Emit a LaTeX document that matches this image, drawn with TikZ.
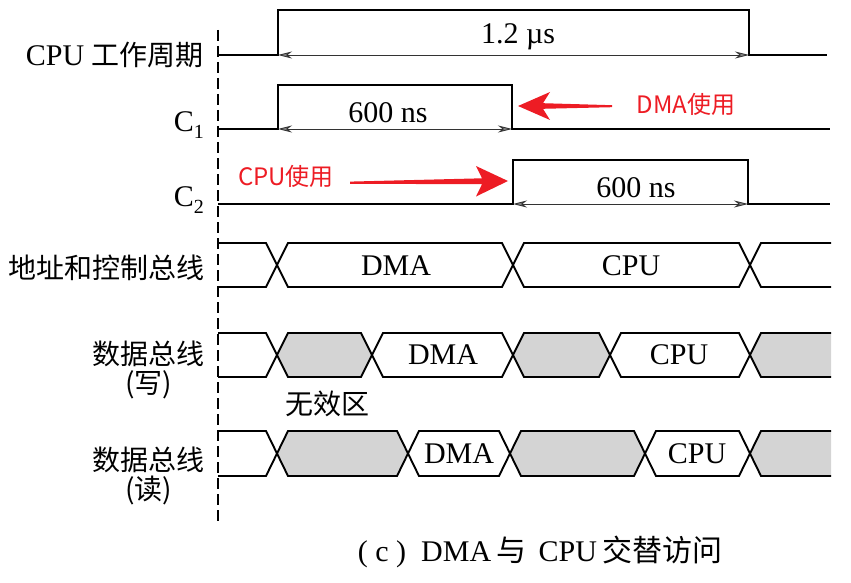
\documentclass[tikz,border=0pt]{standalone}
\usepackage{fontspec}
\setmainfont{Liberation Serif}
\newfontfamily\cjk{Noto Sans CJK SC}
\newfontfamily\redsans{Noto Sans CJK SC}
\usetikzlibrary{arrows.meta}
\definecolor{redarrow}{RGB}{237,28,36}
\definecolor{stip}{RGB}{212,212,212}
\newcommand\hexseg[5]{%
  \draw[bus,#5] (#1,{(#3+#4)/2}) -- ({#1+11},#3) -- ({#2-11},#3) -- (#2,{(#3+#4)/2}) -- ({#2-11},#4) -- ({#1+11},#4) -- cycle;}
\newcommand\leftseg[3]{%
  \draw[bus] (218,#2) -- ({#1-11},#2) -- (#1,{(#2+#3)/2}) -- ({#1-11},#3) -- (218,#3);}
\newcommand\rightseg[4]{%
  \fill[#4] (831,#2) -- ({#1+11},#2) -- (#1,{(#2+#3)/2}) -- ({#1+11},#3) -- (831,#3) -- cycle;
  \draw[bus] (831,#2) -- ({#1+11},#2) -- (#1,{(#2+#3)/2}) -- ({#1+11},#3) -- (831,#3);}
\begin{document}
\begin{tikzpicture}[x=1pt,y=-1pt,
  wave/.style={line width=1.9pt,line join=miter},
  bus/.style={line width=1.9pt,line join=miter},
  dim/.style={line width=0.9pt,black!80,{Stealth[length=14pt,width=7pt,fill=black!45]}-{Stealth[length=14pt,width=7pt,fill=black!45]}},
  lab/.style={font=\fontsize{30}{33}\selectfont,inner sep=0pt},
  cj/.style={font=\fontsize{28}{32}\selectfont\cjk,inner sep=0pt},
  redlab/.style={font=\fontsize{24}{26}\selectfont\redsans,text=redarrow,inner sep=0pt},
  gray/.style={fill=stip}]
\useasboundingbox (0,0) rectangle (851,583);

% dashed reference line
\draw[line width=1.4pt,dash pattern=on 11pt off 5pt] (218,30) -- (218,524);

% row labels
\node[lab,anchor=east] (lcpu) at (204,55) {CPU {\cjk\fontsize{28}{30}\selectfont 工作周期}};
\node[lab,anchor=east] (lc1) at (204,125) {C\raisebox{-0.45ex}{\fontsize{20}{20}\selectfont 1}};
\node[lab,anchor=east] (lc2) at (204,200) {C\raisebox{-0.45ex}{\fontsize{20}{20}\selectfont 2}};
\node[cj,anchor=east] (laddr) at (205,268) {地址和控制总线};
\node[cj,anchor=east,align=center] (lwr) at (205,370) {数据总线\\[-3pt](写)};
\node[cj,anchor=east,align=center] (lrd) at (205,476) {数据总线\\[-3pt](读)};

% CPU cycle
\draw[wave] (218,55) -- (278,55) -- (278,10) -- (749,10) -- (749,55) -- (827,55);
\coordinate (cA) at (278,55); \coordinate (cB) at (749,55);
\draw[dim] (cA) -- (cB);
\node[lab] (t12) at (518,37) {1.2 µs};

% C1
\draw[wave] (218,129) -- (278,129) -- (278,85) -- (512,85) -- (512,129) -- (830,129);
\coordinate (c1A) at (278,129); \coordinate (c1B) at (512,129);
\draw[dim] (c1A) -- (c1B);
\node[lab] (t600a) at (388,113) {600 ns};

% C2
\draw[wave] (218,204) -- (513,204) -- (513,160) -- (748,160) -- (748,204) -- (830,204);
\coordinate (c2A) at (513,204); \coordinate (c2B) at (748,204);
\draw[dim] (c2A) -- (c2B);
\node[lab] (t600b) at (636,188) {600 ns};

% red annotations
\node[redlab] (dmause) at (686,104) {DMA使用};
\node[redlab] (cpuuse) at (286,176) {CPU使用};
\fill[redarrow] (518,106) -- (550,92) -- (543,103.2) -- (612,105.2) -- (612,107.2) -- (543,108.8) -- (550,120) -- cycle;
\fill[redarrow] (508,181) -- (476,166) -- (482,178.3) -- (350,181.6) -- (350,183.8) -- (482,184.2) -- (476,196.5) -- cycle;

% address & control bus
\leftseg{277}{243}{287}
\hexseg{277}{513}{243}{287}{}
\hexseg{513}{750}{243}{287}{}
\rightseg{750}{243}{287}{white}
\node[lab] (adma) at (396,266) {DMA};
\node[lab] (acpu) at (631,266) {CPU};

% data bus write
\leftseg{277}{333}{377}
\hexseg{277}{372}{333}{377}{gray}
\hexseg{372}{513}{333}{377}{}
\hexseg{513}{610}{333}{377}{gray}
\hexseg{610}{750}{333}{377}{}
\rightseg{750}{333}{377}{stip}
\node[lab] (wdma) at (443,355) {DMA};
\node[lab] (wcpu) at (679,355) {CPU};
\node[cj] (inv) at (327,404) {无效区};

% data bus read
\leftseg{277}{431}{476}
\hexseg{277}{408}{431}{476}{gray}
\hexseg{408}{510}{431}{476}{}
\hexseg{510}{645}{431}{476}{gray}
\hexseg{645}{750}{431}{476}{}
\rightseg{750}{431}{476}{stip}
\node[lab] (rdma) at (459,454) {DMA};
\node[lab] (rcpu) at (697,454) {CPU};

% caption
\node[lab] (cap) at (540,552) {( c )\ \ DMA\,{\cjk 与}\, CPU\,{\cjk 交替访问}};
\end{tikzpicture}
\end{document}
